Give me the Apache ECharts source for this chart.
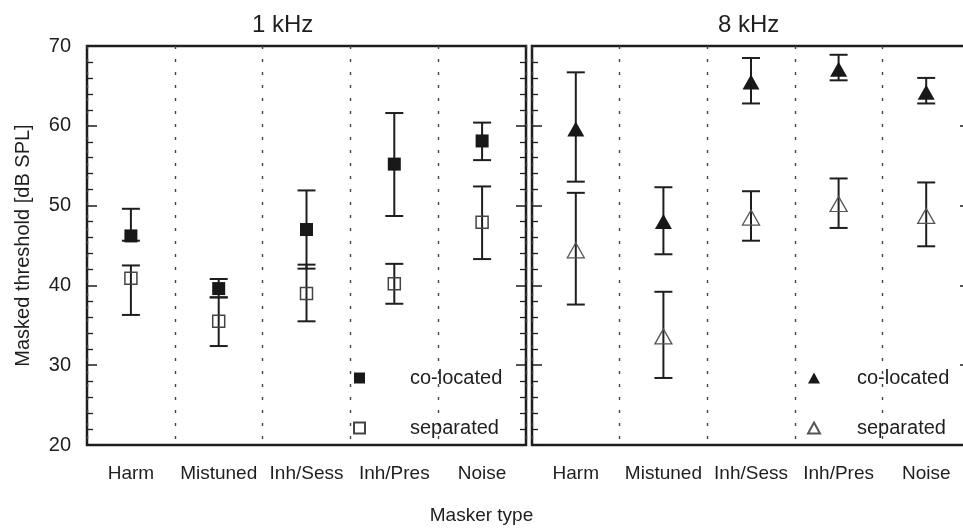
<!DOCTYPE html>
<html>
<head>
<meta charset="utf-8">
<script src="https://cdn.jsdelivr.net/npm/echarts@6/dist/echarts.min.js"></script>
<style>
  html, body { margin: 0; padding: 0; background: #fff; }
  #chart { width: 963px; height: 528px; }
</style>
</head>
<body>
<div id="chart"></div>
<script>
// masker types, same in both panels
var categories = ['Harm', 'Mistuned', 'Inh/Sess', 'Inh/Pres', 'Noise'];
var yTicks = [20, 30, 40, 50, 60, 70];

// 1 kHz panel
var k1Co = [46.2, 39.6, 47.0, 55.2, 58.1];
var k1CoLo = [45.6, 38.5, 42.1, 48.7, 55.7];
var k1CoHi = [49.6, 40.8, 51.9, 61.6, 60.4];
var k1Sep = [40.9, 35.5, 39.0, 40.2, 47.9];
var k1SepLo = [36.3, 32.4, 35.5, 37.7, 43.3];
var k1SepHi = [42.5, 38.5, 42.6, 42.7, 52.4];

// 8 kHz panel
var k8Co = [59.6, 48.0, 65.5, 67.1, 64.2];
var k8CoLo = [53.0, 43.9, 62.8, 65.7, 62.8];
var k8CoHi = [66.7, 52.3, 68.5, 68.9, 66.0];
var k8Sep = [44.4, 33.6, 48.5, 50.2, 48.7];
var k8SepLo = [37.6, 28.4, 45.6, 47.2, 44.9];
var k8SepHi = [51.6, 39.2, 51.8, 53.4, 52.9];

var FONT = '"Liberation Sans", Arial, sans-serif';
var INK = '#1e1e1e';

var dom = document.getElementById('chart');
var chart = echarts.init(dom, null, { renderer: 'canvas' });

let bars = (lo, hi) => categories.map((c, i) => [i, lo[i], hi[i]]);

let errorBar = (params, api) => {
    var x = api.value(0);
    var lo = api.coord([x, api.value(1)]);
    var hi = api.coord([x, api.value(2)]);
    var half = 9;
    var style = { stroke: INK, lineWidth: 2 };
    return {
        type: 'group',
        children: [
            { type: 'line', shape: { x1: lo[0], y1: hi[1], x2: lo[0], y2: lo[1] }, style: style },
            { type: 'line', shape: { x1: lo[0] - half, y1: hi[1], x2: lo[0] + half, y2: hi[1] }, style: style },
            { type: 'line', shape: { x1: lo[0] - half, y1: lo[1], x2: lo[0] + half, y2: lo[1] }, style: style }
        ]
    };
};

let xAxisFor = (gridIndex) => ({
    type: 'category',
    gridIndex: gridIndex,
    data: categories,
    boundaryGap: true,
    axisLine: { show: false },
    axisTick: { show: false },
    axisLabel: { color: INK, fontSize: 19, fontFamily: FONT, margin: 19, interval: 0 },
    splitLine: { show: true, lineStyle: { color: '#444', width: 1.4, type: [3, 10] } }
});

let yAxisFor = (gridIndex, position, labels) => ({
    type: 'value',
    gridIndex: gridIndex,
    position: position,
    min: yTicks[0],
    max: yTicks[yTicks.length - 1],
    interval: 10,
    axisLine: { show: false },
    axisTick: { show: true, inside: true, length: 10, lineStyle: { color: INK, width: 1.5 } },
    minorTick: { show: true, splitNumber: 5, length: 6, lineStyle: { color: INK, width: 1.3 } },
    splitLine: { show: false },
    axisLabel: { show: labels, color: INK, fontSize: 20, fontFamily: FONT, margin: 16 }
});

var gridStyle = {
    show: true, borderColor: INK, borderWidth: 2.5, backgroundColor: 'transparent',
    outerBoundsMode: 'none', containLabel: false
};

var option = {
    animation: false,
    textStyle: { fontFamily: FONT },
    title: [
        { text: '1 kHz', left: 247, top: 8, textStyle: { color: INK, fontSize: 24, fontWeight: 'normal', fontFamily: FONT } },
        { text: '8 kHz', left: 713, top: 8, textStyle: { color: INK, fontSize: 24, fontWeight: 'normal', fontFamily: FONT } },
        { text: 'Masker type', left: 'center', top: 501, textStyle: { color: INK, fontSize: 19, fontWeight: 'normal', fontFamily: FONT } }
    ],
    grid: [
        Object.assign({ left: 87, top: 46, width: 439, height: 399 }, gridStyle),
        Object.assign({ left: 532, top: 46, width: 438, height: 399 }, gridStyle)
    ],
    xAxis: [xAxisFor(0), xAxisFor(1)],
    yAxis: [
        Object.assign(yAxisFor(0, 'left', true), {
            name: 'Masked threshold [dB SPL]',
            nameLocation: 'middle',
            nameGap: 54,
            nameTextStyle: { color: INK, fontSize: 20, fontFamily: FONT }
        }),
        yAxisFor(0, 'right', false),
        yAxisFor(1, 'left', false),
        yAxisFor(1, 'right', false)
    ],
    legend: [
        {
            data: ['1k co-located', '1k separated'],
            left: 353, top: 368, orient: 'vertical', itemGap: 30, padding: 0,
            itemWidth: 11, itemHeight: 11, selectedMode: false,
            formatter: (name) => name.replace(/^\S+ /, ''),
            textStyle: { color: INK, fontSize: 20, fontFamily: FONT, padding: [0, 0, 0, 40] }
        },
        {
            data: ['8k co-located', '8k separated'],
            left: 807, top: 368, orient: 'vertical', itemGap: 30, padding: 0,
            itemWidth: 12, itemHeight: 11, selectedMode: false,
            formatter: (name) => name.replace(/^\S+ /, ''),
            textStyle: { color: INK, fontSize: 20, fontFamily: FONT, padding: [0, 0, 0, 32] }
        }
    ],
    series: [
        { type: 'custom', name: 'bars 1k co', xAxisIndex: 0, yAxisIndex: 0, renderItem: errorBar, data: bars(k1CoLo, k1CoHi), z: 2 },
        { type: 'custom', name: 'bars 1k sep', xAxisIndex: 0, yAxisIndex: 0, renderItem: errorBar, data: bars(k1SepLo, k1SepHi), z: 2 },
        { type: 'custom', name: 'bars 8k co', xAxisIndex: 1, yAxisIndex: 2, renderItem: errorBar, data: bars(k8CoLo, k8CoHi), z: 2 },
        { type: 'custom', name: 'bars 8k sep', xAxisIndex: 1, yAxisIndex: 2, renderItem: errorBar, data: bars(k8SepLo, k8SepHi), z: 2 },
        {
            type: 'scatter', name: '1k co-located', xAxisIndex: 0, yAxisIndex: 0,
            symbol: 'rect', symbolSize: 13, z: 3,
            itemStyle: { color: '#181818', opacity: 1 },
            data: k1Co
        },
        {
            type: 'scatter', name: '1k separated', xAxisIndex: 0, yAxisIndex: 0,
            symbol: 'rect', symbolSize: 12, z: 3,
            itemStyle: { color: 'rgba(255,255,255,0)', borderColor: '#444', borderWidth: 1.5, opacity: 1 },
            data: k1Sep
        },
        {
            type: 'scatter', name: '8k co-located', xAxisIndex: 1, yAxisIndex: 2,
            symbol: 'triangle', symbolSize: [17, 15], z: 3,
            itemStyle: { color: '#181818', opacity: 1 },
            data: k8Co
        },
        {
            type: 'scatter', name: '8k separated', xAxisIndex: 1, yAxisIndex: 2,
            symbol: 'triangle', symbolSize: [17, 15], z: 3,
            itemStyle: { color: 'rgba(255,255,255,0)', borderColor: '#555', borderWidth: 1.3, opacity: 1 },
            data: k8Sep
        }
    ]
};

if (option && typeof option === 'object') {
    chart.setOption(option);
}
window.addEventListener('resize', chart.resize);
</script>
</body>
</html>
